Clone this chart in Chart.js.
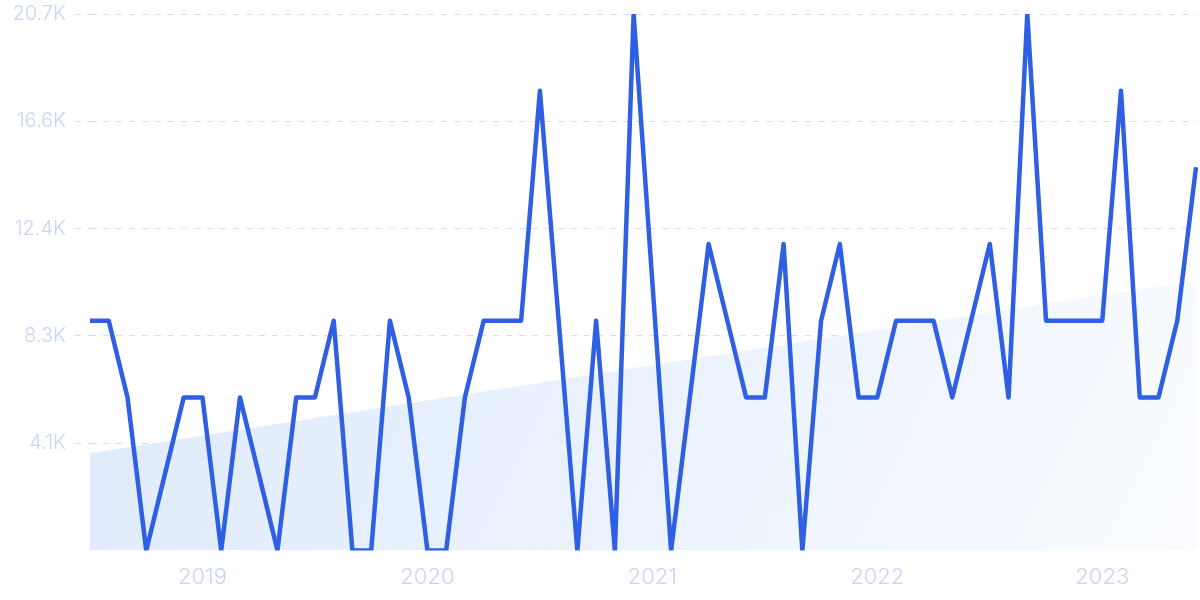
<!DOCTYPE html>
<html>
<head>
<meta charset="utf-8">
<script src="https://cdn.jsdelivr.net/npm/chart.js@4"></script>
<style>
html, body { margin: 0; padding: 0; background: #fff; }
#wrap { width: 1200px; height: 600px; }
</style>
</head>
<body>
<div id="wrap"><canvas id="trendChart"></canvas></div>
<script>
// monthly values, Jul 2018 - Jun 2023
const values = [
  8870, 8870, 5910, 0, 2960, 5910,
  5910, 0, 5910, 2960, 0, 5910, 5910, 8870, 0, 0, 8870, 5910,
  0, 0, 5910, 8870, 8870, 8870, 17740, 8870, 0, 8870, 0, 20700,
  10350, 0, 5910, 11830, 8870, 5910, 5910, 11830, 0, 8870, 11830, 5910,
  5910, 8870, 8870, 8870, 5910, 8870, 11830, 5910, 20700, 8870, 8870, 8870,
  8870, 17740, 5910, 5910, 8870, 14790
];
// trend band start / end values
const trendStart = 3760;
const trendEnd = 10430;
const yTicks = [4140, 8280, 12420, 16560, 20700];
const yTickLabels = ["4.1K", "8.3K", "12.4K", "16.6K", "20.7K"];
const startYear = 2018, startMonth = 6; // July (0-based)

const months = values.map((v, i) => {
  const m = startMonth + i;
  return (startYear + Math.floor(m / 12)) + "-" + String(m % 12 + 1).padStart(2, "0");
});
const trend = values.map((v, i) => i === 0 ? trendStart : (i === values.length - 1 ? trendEnd : null));

const tickColor = "#c9d4f5";
const ctx = document.getElementById("trendChart");

new Chart(ctx, {
  type: "line",
  data: {
    labels: months,
    datasets: [{
      data: values,
      borderColor: "#2f5fe3",
      borderWidth: 4.5,
      tension: 0,
      pointRadius: 0,
      borderJoinStyle: "round",
      fill: false,
      order: 0
    }, {
      data: trend,
      spanGaps: true,
      borderWidth: 0,
      pointRadius: 0,
      fill: "origin",
      order: 1,
      backgroundColor: (c) => {
        const a = c.chart.chartArea;
        if (!a) return "#e6effc";
        const g = c.chart.ctx.createLinearGradient(a.left, a.top, a.right, a.bottom);
        g.addColorStop(0, "#dbe8fb");
        g.addColorStop(0.5, "#e9f1fd");
        g.addColorStop(1, "#fafcff");
        return g;
      }
    }]
  },
  options: {
    responsive: true,
    maintainAspectRatio: false,
    animation: false,
    layout: { padding: { top: 14, right: 4, bottom: 3 } },
    plugins: { legend: { display: false }, tooltip: { enabled: false } },
    scales: {
      x: {
        grid: { display: false },
        border: { display: false },
        ticks: {
          autoSkip: false,
          maxRotation: 0,
          color: tickColor,
          font: { family: "Inter", size: 22, weight: 300 },
          padding: 6,
          callback: function (v, i) {
            const lab = months[i];
            return lab.endsWith("-01") ? lab.slice(0, 4) : null;
          }
        }
      },
      y: {
        min: 0,
        max: 20700,
        border: { display: false, dash: [6, 7] },
        afterBuildTicks: (s) => { s.ticks = yTicks.map(v => ({ value: v })); },
        afterFit: (s) => { s.width = 90; s.paddingTop = 0; s.paddingBottom = 0; },
        grid: {
          color: "#d1ddfa",
          lineWidth: 1,
          tickBorderDash: [6, 7],
          tickLength: 15
        },
        ticks: {
          color: tickColor,
          font: { family: "Inter", size: 20, weight: 300 },
          padding: 9,
          callback: (v) => yTickLabels[yTicks.indexOf(v)]
        }
      }
    }
  }
});
</script>
</body>
</html>
